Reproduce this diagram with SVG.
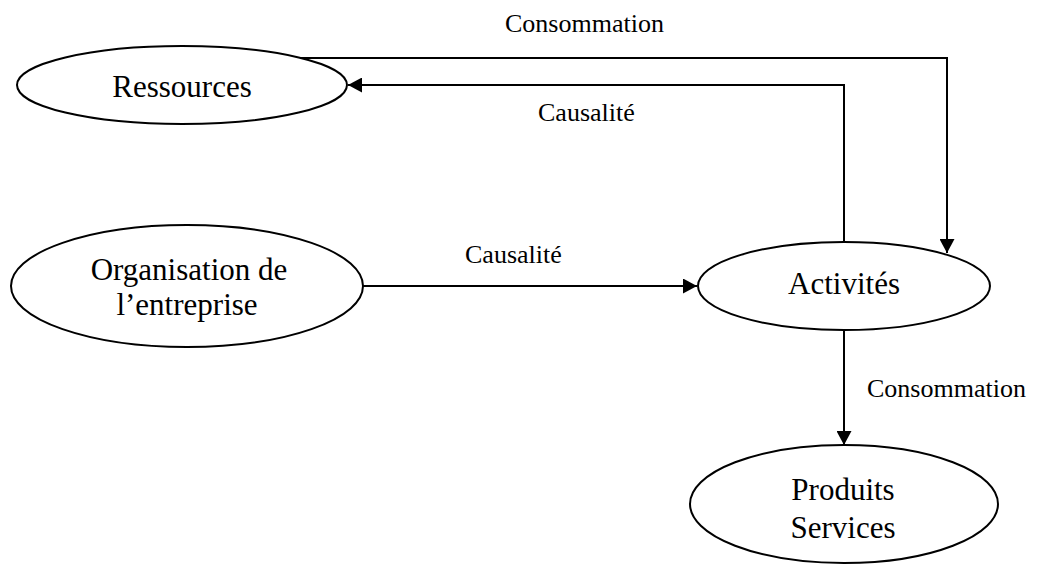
<svg xmlns="http://www.w3.org/2000/svg" width="1039" height="565" viewBox="0 0 1039 565">
  <style>
    .node ellipse { fill: #ffffff; stroke: #000000; stroke-width: 2; }
    .node text { font-family: "Liberation Serif", "Times New Roman", serif; font-size: 31px; fill: #000000; text-anchor: middle; }
    .edge { fill: none; stroke: #000000; stroke-width: 2; }
    .label { font-family: "Liberation Serif", "Times New Roman", serif; font-size: 26px; fill: #000000; }
  </style>
  <defs>
    <marker id="arrow" markerUnits="userSpaceOnUse" markerWidth="15" markerHeight="15" refX="14" refY="7.5" orient="auto">
      <path d="M0,0 L14,7.5 L0,15 z" fill="#000000"/>
    </marker>
  </defs>
  <rect width="1039" height="565" fill="#ffffff"/>

  <!-- connectors -->
  <g id="connectors">
    <path class="edge" d="M300,58 H947 V253" marker-end="url(#arrow)"/>
    <path class="edge" d="M844,242 V85 H348" marker-end="url(#arrow)"/>
    <path class="edge" d="M363,286 H697" marker-end="url(#arrow)"/>
    <path class="edge" d="M844,330 V445" marker-end="url(#arrow)"/>
    <text class="label" x="505" y="32">Consommation</text>
    <text class="label" x="538" y="121">Causalité</text>
    <text class="label" x="465" y="263">Causalité</text>
    <text class="label" x="867" y="397">Consommation</text>
  </g>

  <!-- nodes -->
  <g id="ressources" class="node">
    <ellipse cx="182" cy="85" rx="165" ry="39"/>
    <text x="182" y="97">Ressources</text>
  </g>
  <g id="organisation" class="node">
    <ellipse cx="187" cy="286" rx="176" ry="61"/>
    <text x="189" y="280">Organisation de</text>
    <text x="187" y="315">l’entreprise</text>
  </g>
  <g id="activites" class="node">
    <ellipse cx="844" cy="286" rx="146" ry="44"/>
    <text x="844" y="294">Activités</text>
  </g>
  <g id="produits" class="node">
    <ellipse cx="844" cy="504" rx="154" ry="59"/>
    <text x="843" y="500">Produits</text>
    <text x="843" y="538">Services</text>
  </g>
</svg>
